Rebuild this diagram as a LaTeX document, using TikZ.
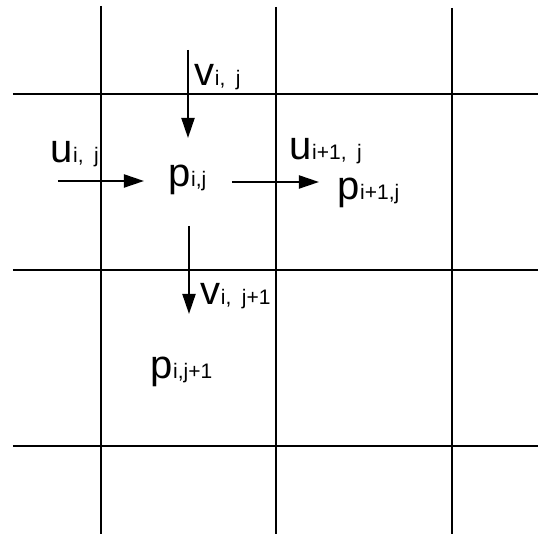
\documentclass[tikz,border=0pt]{standalone}
\usepackage{fontspec}
\setmainfont{Liberation Sans}
\usetikzlibrary{arrows.meta}

\newcommand{\gridvar}[2]{#1{\fontsize{10.5}{12}\selectfont #2}}
\newcommand{\subgap}{\hspace{0.5em}}

\begin{document}
\begin{tikzpicture}[x=0.5pt,y=-0.5pt,line width=1pt,
    gridline/.style={line width=1pt,black},
    flux/.style={line width=1pt,-{Triangle[length=10pt,width=6.5pt]}},
    var/.style={inner sep=0pt,anchor=base west,font=\fontsize{20}{23}\selectfont}]
  \useasboundingbox (0,0) rectangle (538,534);
  % staggered grid
  \foreach \gx/\gtop in {101/6,276/7,452/8}
    \draw[gridline] (\gx,\gtop) -- (\gx,534);
  \foreach \gy in {94,270,446}
    \draw[gridline] (13,\gy) -- (538,\gy);
  % velocity arrows
  \coordinate (vij-tail) at (188,50);
  \coordinate (vij-head) at (188,138);
  \coordinate (uij-tail) at (58,181);
  \coordinate (uij-head) at (144,181);
  \coordinate (uipj-tail) at (232,182);
  \coordinate (uipj-head) at (319,182);
  \coordinate (vijp-tail) at (189,226);
  \coordinate (vijp-head) at (189,314);
  \draw[flux] (vij-tail) -- (vij-head);
  \draw[flux] (uij-tail) -- (uij-head);
  \draw[flux] (uipj-tail) -- (uipj-head);
  \draw[flux] (vijp-tail) -- (vijp-head);
  % labels
  \node[var] (vij)  at (194,86)  {\gridvar{v}{i,\subgap j}};
  \node[var] (uij)  at (50,163)  {\gridvar{u}{i,\subgap j}};
  \node[var] (pij)  at (168,187) {\gridvar{p}{i,j}};
  \node[var] (uipj) at (289,160) {\gridvar{u}{i+1,\subgap j}};
  \node[var] (pipj) at (337,200) {\gridvar{p}{i+1,j}};
  \node[var] (vijp) at (200,305) {\gridvar{v}{i,\subgap j+1}};
  \node[var] (pijp) at (150,379) {\gridvar{p}{i,j+1}};
\end{tikzpicture}
\end{document}
